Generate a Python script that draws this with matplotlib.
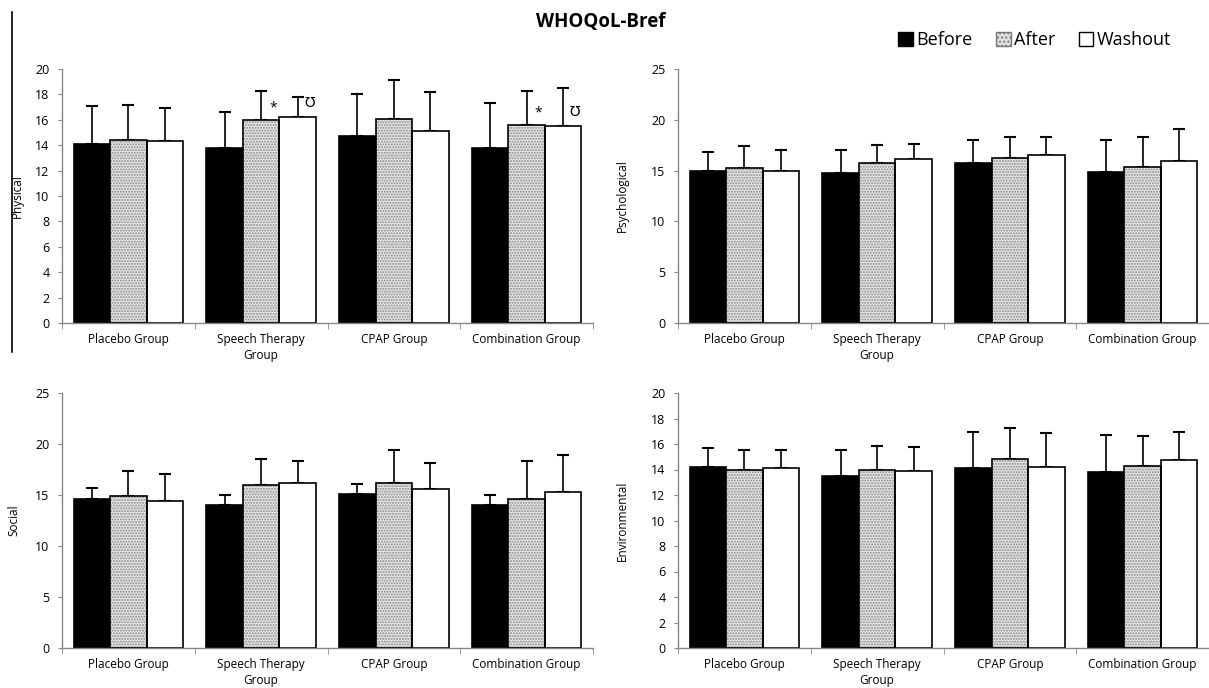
import numpy as np
import matplotlib
matplotlib.use("Agg")
import matplotlib.pyplot as plt
from matplotlib.patches import Patch
from matplotlib.lines import Line2D

plt.rcParams['font.family'] = ['Open Sans', 'DejaVu Sans']

groups = ['Placebo Group', 'Speech Therapy\nGroup', 'CPAP Group', 'Combination Group']
series = ['Before', 'After', 'Washout']

# mean values (Before, After, Washout) and upper SD for each domain
physical = [[14.1, 13.8, 14.7, 13.8], [14.4, 16.0, 16.1, 15.6], [14.3, 16.2, 15.1, 15.5]]
physical_sd = [[3.0, 2.8, 3.3, 3.5], [2.8, 2.3, 3.0, 2.7], [2.6, 1.6, 3.1, 3.0]]

psychological = [[15.0, 14.8, 15.7, 14.9], [15.3, 15.7, 16.2, 15.4], [15.0, 16.1, 16.5, 15.9]]
psychological_sd = [[1.85, 2.2, 2.35, 3.15], [2.1, 1.8, 2.1, 2.9], [2.0, 1.55, 1.8, 3.2]]

social = [[14.65, 14.0, 15.05, 14.0], [14.9, 16.0, 16.2, 14.65], [14.4, 16.2, 15.55, 15.3]]
social_sd = [[1.05, 1.0, 1.0, 1.0], [2.5, 2.55, 3.25, 3.65], [2.7, 2.1, 2.6, 3.65]]

environmental = [[14.2, 13.5, 14.1, 13.8], [14.0, 14.0, 14.85, 14.3], [14.1, 13.9, 14.2, 14.75]]
environmental_sd = [[1.45, 2.05, 2.85, 2.9], [1.5, 1.85, 2.4, 2.3], [1.4, 1.85, 2.65, 2.2]]

# significance marks on the Physical panel: (group index, series index, symbol)
physical_marks = [(1, 1, '*'), (1, 2, 'Ʊ'), (3, 1, '*'), (3, 2, 'Ʊ')]

fig = plt.figure(figsize=(12.09, 6.88), dpi=100)

W, H = 1209, 688
panels = [
    ('Physical', physical, physical_sd, 20, 2, (62, 69, 323), -0.072),
    ('Psychological', psychological, psychological_sd, 25, 5, (678, 69, 323), -0.093),
    ('Social', social, social_sd, 25, 5, (62, 393, 648), -0.078),
    ('Environmental', environmental, environmental_sd, 20, 2, (678, 393, 648), -0.093),
]

bw = 0.275
x = np.arange(len(groups)) + 0.5
axes = []
for name, vals, sds, ymax, step, (px, ptop, pbot), lx in panels:
    ax = fig.add_axes([px / W, 1 - pbot / H, 531 / W, (pbot - ptop) / H])
    axes.append(ax)
    for i in range(3):
        xs = x + (i - 1) * bw
        v = np.array(vals[i])
        if i == 0:
            ax.bar(xs, v, bw, color='black', edgecolor='black', linewidth=1.2, zorder=2)
        elif i == 1:
            ax.bar(xs, v, bw, color='#e6e6e6', edgecolor='#8a8a8a', hatch='......', linewidth=0, zorder=2)
            ax.bar(xs, v, bw, fill=False, edgecolor='black', linewidth=1.2, zorder=3)
        else:
            ax.bar(xs, v, bw, color='white', edgecolor='black', linewidth=1.2, zorder=2)
        ax.errorbar(xs, v, yerr=[np.zeros(4), sds[i]], fmt='none', ecolor='black',
                    elinewidth=1.2, capsize=4, capthick=1.5, zorder=1)
    ax.set_xlim(0, 4)
    ax.set_ylim(0, ymax)
    ax.set_yticks(np.arange(0, ymax + 1, step))
    ax.set_xticks(x)
    ax.set_xticklabels(groups, fontsize=8.5, linespacing=1.3)
    ax.tick_params(axis='x', length=0, pad=7)
    ax.set_xticks(np.arange(0, 5), minor=True)
    ax.tick_params(axis='x', which='minor', length=4, color='#888888', direction='out')
    ax.tick_params(axis='y', labelsize=9, length=3, color='#888888', pad=6)
    for s in ['top', 'right']:
        ax.spines[s].set_visible(False)
    for s in ['left', 'bottom']:
        ax.spines[s].set_color('#888888')
        ax.spines[s].set_linewidth(1.0)
    ax.set_ylabel(name, fontsize=8.5)
    ax.yaxis.set_label_coords(lx, 0.5)

for g, s, sym in physical_marks:
    xs = x[g] + (s - 1) * bw + 0.09
    ytop = physical[s][g] + (0.35 if sym == '*' else 0.55)
    axes[0].text(xs, ytop, sym, ha='center', va='bottom', fontsize=10,
                 family=['DejaVu Sans'] if sym != '*' else None)

fig.text(0.497, 0.968, 'WHOQoL-Bref', ha='center', va='center', fontsize=13.5, fontweight='bold')

handles = [Patch(facecolor='black', edgecolor='black'),
           Patch(facecolor='#e0e0e0', edgecolor='#777777', hatch='....'),
           Patch(facecolor='white', edgecolor='black')]
fig.legend(handles, series, loc='center', bbox_to_anchor=(0.856, 0.942), ncol=3,
           frameon=False, fontsize=13, handlelength=0.8, handleheight=0.8,
           handletextpad=0.2, columnspacing=1.3)

# left border line from the source image
fig.add_artist(Line2D([12 / W, 12 / W], [1 - 12 / H, 1 - 352 / H], color='black', linewidth=1.2))

fig.savefig('out.png', dpi=100)
